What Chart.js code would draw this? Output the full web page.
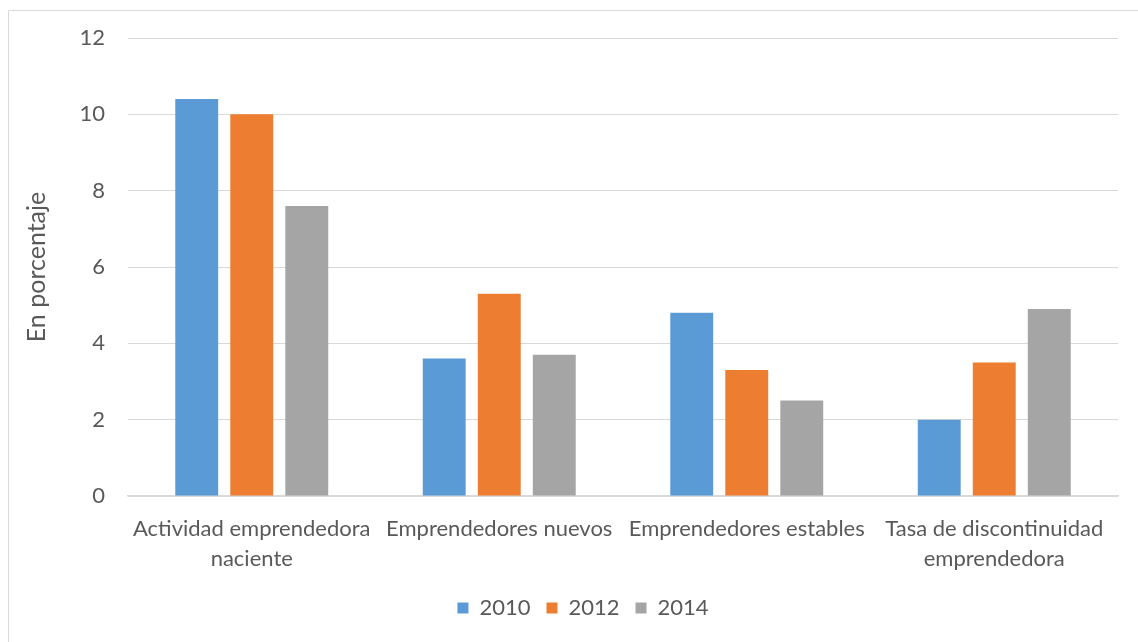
<!DOCTYPE html>
<html>
<head>
<meta charset="utf-8">
<script src="https://cdn.jsdelivr.net/npm/chart.js@4"></script>
<style>
html,body{margin:0;padding:0;background:#fff;}
#wrap{position:relative;width:1138px;height:642px;}
</style>
</head>
<body>
<div id="wrap"><canvas id="c" width="1138" height="642"></canvas></div>
<script>
const categories = [
  ["Actividad emprendedora", "naciente"],
  ["Emprendedores nuevos"],
  ["Emprendedores estables"],
  ["Tasa de discontinuidad", "emprendedora"]
];
const seriesNames = ["2010", "2012", "2014"];
const values2010 = [10.4, 3.6, 4.8, 2.0];
const values2012 = [10.0, 5.3, 3.3, 3.5];
const values2014 = [7.6, 3.7, 2.5, 4.9];
const colors = ["#5B9BD5", "#ED7D31", "#A5A5A5"];
const yTicks = [0, 2, 4, 6, 8, 10, 12];
const yTitle = "En porcentaje";

const FONT = "Lato, 'Open Sans', sans-serif";
const TXT = "#595959";

const borderPlugin = {
  id: 'borderPlugin',
  beforeDraw(chart) {
    const ctx = chart.ctx;
    ctx.save();
    ctx.fillStyle = '#fff';
    ctx.fillRect(0, 0, chart.width, chart.height);
    ctx.strokeStyle = '#D9D9D9';
    ctx.lineWidth = 1;
    ctx.beginPath();
    ctx.moveTo(8.5, chart.height);
    ctx.lineTo(8.5, 10.5);
    ctx.lineTo(chart.width, 10.5);
    ctx.stroke();
    ctx.restore();
  }
};

new Chart(document.getElementById('c'), {
  type: 'bar',
  data: {
    labels: categories,
    datasets: [
      { label: seriesNames[0], data: values2010, backgroundColor: colors[0] },
      { label: seriesNames[1], data: values2012, backgroundColor: colors[1] },
      { label: seriesNames[2], data: values2014, backgroundColor: colors[2] }
    ]
  },
  options: {
    responsive: false,
    animation: false,
    devicePixelRatio: 1,
    layout: { padding: { left: 48, right: 20, top: 38, bottom: 13 } },
    datasets: { bar: { categoryPercentage: 0.667, barPercentage: 0.78 } },
    plugins: {
      legend: {
        position: 'bottom',
        labels: {
          boxWidth: 11, boxHeight: 11, padding: 16,
          color: TXT, font: { family: FONT, size: 22 }
        }
      },
      tooltip: { enabled: false }
    },
    scales: {
      x: {
        grid: { display: false, drawTicks: false },
        border: { color: '#D9D9D9', width: 1.5 },
        ticks: { color: TXT, font: { family: FONT, size: 22, lineHeight: 1.36 }, padding: 18, maxRotation: 0, autoSkip: false },
        afterFit(s) { s.height = 85; }
      },
      y: {
        min: 0, max: 12,
        afterBuildTicks(s) { s.ticks = yTicks.map(v => ({ value: v })); },
        grid: { color: '#D9D9D9', lineWidth: 1, drawTicks: false },
        border: { display: false },
        ticks: { color: TXT, font: { family: FONT, size: 22 }, padding: 23 },
        title: { display: true, text: yTitle, color: TXT, font: { family: FONT, size: 25 }, padding: { top: -26, bottom: 10 } },
        afterFit(s) { s.width = 80; }
      }
    }
  },
  plugins: [borderPlugin]
});
</script>
</body>
</html>
